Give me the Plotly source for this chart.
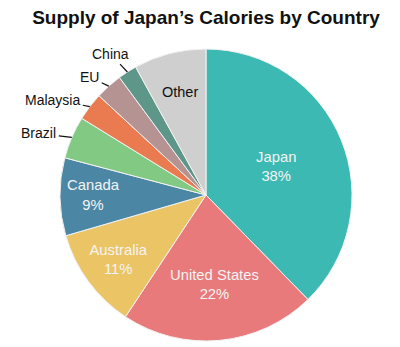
import math
import plotly.graph_objects as go

countries = ["Japan", "United States", "Australia", "Canada", "Brazil", "Malaysia", "EU", "China", "Other"]
shares = [37.7, 21.6, 11.2, 8.6, 4.7, 3.1, 3.0, 2.1, 8.0]
colors = ["#3cb9b3", "#e97a7b", "#ebc466", "#4b87a5", "#82c983", "#ea7a4f", "#b69393", "#5e968a", "#cfcfcf"]
outside_labels = ["Brazil", "Malaysia", "EU", "China"]
# text offsets (px) of the outside labels relative to the slice edge
label_offsets = {"Brazil": (-33, -4), "Malaysia": (-37, -7), "EU": (-19, -9), "China": (-17, -18)}

positions = ["none" if c in outside_labels or c == "Other" else "inside" for c in countries]
templates = ["%{label}<br>%{percent:.0%}" for c in countries]

W, H = 400, 347
M = dict(l=12, r=0, t=49, b=6)
pw, ph = W - M["l"] - M["r"], H - M["t"] - M["b"]
R = min(pw, ph) / 2
FONT = "Liberation Sans, Arial, sans-serif"

fig = go.Figure(go.Pie(
    labels=countries,
    values=shares,
    sort=False,
    direction="clockwise",
    rotation=0,
    marker=dict(colors=colors, line=dict(color="#f2f2f2", width=1)),
    textposition=positions,
    texttemplate=templates,
    insidetextorientation="horizontal",
    insidetextfont=dict(color="#f4f4f4", size=14.8, family=FONT),
    showlegend=False,
    hoverinfo="label+percent",
    automargin=False,
))

total = sum(shares)
cum = 0.0
for c, v in zip(countries, shares):
    mid = (cum + v / 2) / total * 2 * math.pi
    cum += v
    if c in outside_labels:
        # leader-line label anchored at the slice's mid-angle on the rim
        tx = 0.5 + R * math.sin(mid) / pw
        ty = 0.5 + R * math.cos(mid) / ph
        ax, ay = label_offsets[c]
        fig.add_annotation(
            x=tx, y=ty, xref="paper", yref="paper",
            text=c, showarrow=True, arrowhead=0, arrowwidth=1.2, arrowcolor="#111111",
            ax=ax, ay=ay, startstandoff=1, standoff=0,
            font=dict(size=14, color="#111111", family=FONT),
        )
    elif c == "Other":
        rr = 0.725 * R
        fig.add_annotation(
            x=0.5 + rr * math.sin(mid) / pw, y=0.5 + rr * math.cos(mid) / ph,
            xref="paper", yref="paper", xanchor="center", yanchor="middle",
            text=c, showarrow=False,
            font=dict(size=14.5, color="#111111", family=FONT),
        )

fig.update_layout(
    width=W, height=H,
    margin=M,
    paper_bgcolor="white",
    title=dict(text="<b>Supply of Japan’s Calories by Country</b>", x=0.515, xanchor="center",
               y=0.95, yanchor="middle",
               font=dict(size=19, color="#111111", family=FONT)),
)

fig.write_html("out.html")
